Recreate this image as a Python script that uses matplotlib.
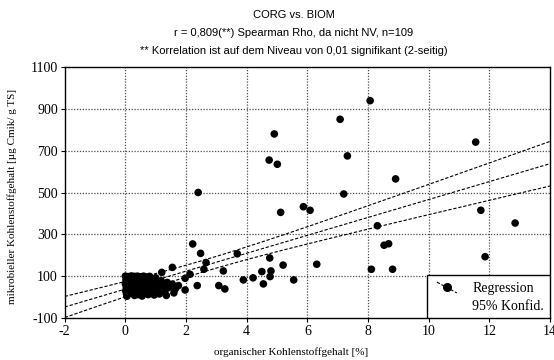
import numpy as np
import matplotlib
matplotlib.use("Agg")
import matplotlib.pyplot as plt
from matplotlib.patches import Rectangle
from matplotlib.lines import Line2D

# ---------------- data ----------------
corg_outer = [8.07, 7.08, 4.91, 4.74, 5.01, 7.32, 11.55, 8.91, 7.20, 5.12, 5.87, 6.09,
              11.72, 12.85, 8.31, 8.53, 8.68, 3.69, 4.76, 11.86, 8.11, 8.81, 2.22, 2.48,
              2.66, 2.59, 3.23, 5.20, 6.31, 4.50, 4.80, 4.77, 3.89, 4.21, 4.55, 5.55,
              2.37, 3.08, 3.28, 1.55, 1.20, 2.13, 1.97, 1.97, 1.47, 2.40]
biom_outer = [939, 850, 780, 655, 635, 675, 741, 565, 493, 405, 432, 415,
              415, 354, 341, 248, 255, 207, 187, 193, 133, 133, 254, 209,
              165, 133, 125, 153, 157, 122, 125, 98, 82, 92, 63, 82,
              55, 55, 39, 142, 118, 109, 90, 34, 50, 500]

corg_cluster = [0.0, 0.1, 0.2, 0.3, 0.4, 0.5, 0.6, 0.7, 0.8,
                0.02, 0.0, 0.03, 0.01, 0.04, 0.05,
                0.15, 0.25, 0.2, 0.12, 0.3, 0.35, 0.4, 0.45, 0.5, 0.55, 0.6, 0.65,
                0.7, 0.75, 0.8, 0.85, 0.9, 0.95, 0.28, 0.38, 0.48, 0.58, 0.68, 0.78,
                0.88, 0.92, 0.18, 0.22, 0.33, 0.42, 0.52, 0.62, 0.72, 0.82,
                1.0, 1.02, 1.08, 1.12, 1.18, 1.25, 1.3, 1.38, 1.42, 1.55, 1.65, 1.75,
                1.35, 1.6]
biom_cluster = [100, 98, 101, 99, 100, 97, 100, 96, 99,
                82, 63, 47, 30, 14, 4,
                75, 55, 35, 18, 8, 85, 65, 40, 20, 5, 78, 55,
                30, 12, 70, 48, 25, 10, 72, 28, 88, 42, 68, 38,
                85, 62, 50, 90, 45, 12, 60, 22, 90, 18,
                92, 65, 40, 15, 78, 55, 28, 70, 45, 62, 40, 55,
                8, 20]

corg = np.array(corg_outer + corg_cluster)
biom = np.array(biom_outer + biom_cluster)

x_ticks = [-2, 0, 2, 4, 6, 8, 10, 12, 14]
y_ticks = [-100, 100, 300, 500, 700, 900, 1100]

title_lines = ["CORG vs. BIOM",
               "r = 0,809(**) Spearman Rho, da nicht NV, n=109",
               "** Korrelation ist auf dem Niveau von 0,01 signifikant (2-seitig)"]
x_label = "organischer Kohlenstoffgehalt [%]"
y_label = "mikrobieller Kohlenstoffgehalt [µg Cmik/ g TS]"
legend_labels = ["Regression", "95% Konfid."]

# ---------------- regression with 95% confidence band ----------------
n = len(corg)
slope, intercept = np.polyfit(corg, biom, 1)
resid = biom - (intercept + slope * corg)
s = np.sqrt(np.sum(resid ** 2) / (n - 2))
xm = corg.mean()
sxx = np.sum((corg - xm) ** 2)
t_val = 1.982
xs = np.linspace(-2, 14, 200)
ys = intercept + slope * xs
half = t_val * s * np.sqrt(1.0 / n + (xs - xm) ** 2 / sxx)

# ---------------- figure ----------------
serif = ["Liberation Serif", "DejaVu Serif"]
sans = ["Liberation Sans", "DejaVu Sans"]

fig = plt.figure(figsize=(5.54, 3.6), dpi=100)
ax = fig.add_axes([64.7 / 554, 42 / 360, 485.3 / 554, 251 / 360])
ax.set_xlim(-2, 14)
ax.set_ylim(-100, 1100)

grid_kw = dict(color="0.3", linestyle=(0, (1, 1.3)), linewidth=0.9, zorder=1)
for gx in x_ticks[1:-1]:
    ax.axvline(gx, **grid_kw)
for gy in y_ticks[1:-1]:
    ax.axhline(gy, **grid_kw)

dash = (0, (3, 1.6))
ax.plot(xs, ys, color="black", linestyle=dash, linewidth=0.8, zorder=2)
ax.plot(xs, ys + half, color="black", linestyle=dash, linewidth=0.8, zorder=2)
ax.plot(xs, ys - half, color="black", linestyle=dash, linewidth=0.8, zorder=2)

ax.scatter(corg, biom, s=30, color="black", edgecolors="none", zorder=3, clip_on=True)

ax.set_xticks(x_ticks)
ax.set_yticks(y_ticks)
ax.set_xticklabels([str(v) for v in x_ticks], fontfamily=serif, fontsize=10)
ax.set_yticklabels([str(v) for v in y_ticks], fontfamily=serif, fontsize=10)
ax.tick_params(direction="out", length=3, width=0.8, pad=2)
for sp in ax.spines.values():
    sp.set_linewidth(1.0)
    sp.set_color("black")

# axis labels
fig.text(0.525, 8 / 360, x_label, ha="center", va="center", fontfamily=serif, fontsize=8)
fig.text(12 / 554, 1 - 196 / 360, y_label, ha="center", va="center", rotation=90,
         fontfamily=serif, fontsize=8)

# titles
for i, (line, ypx) in enumerate(zip(title_lines, [15, 33.5, 51])):
    fig.text(0.53, 1 - ypx / 360, line, ha="center", va="center", fontfamily=sans, fontsize=8)

# legend (drawn manually like the SPSS box)
ax.add_patch(Rectangle((0.747, 0.0), 0.253, 0.171, transform=ax.transAxes,
                       facecolor="white", edgecolor="black", linewidth=1.0, zorder=5))
ax.add_line(Line2D([0.767, 0.808], [0.143, 0.100], transform=ax.transAxes,
                   color="black", linestyle=dash, linewidth=0.8, zorder=6))
ax.add_line(Line2D([0.788], [0.1235], transform=ax.transAxes, marker="o",
                   markersize=5.5, color="black", linestyle="none", zorder=7))
ax.text(0.840, 0.1195, legend_labels[0], transform=ax.transAxes, ha="left", va="center",
        fontfamily=serif, fontsize=10, zorder=7)
ax.text(0.840, 0.044, legend_labels[1], transform=ax.transAxes, ha="left", va="center",
        fontfamily=serif, fontsize=10, zorder=7)

fig.savefig("out.png", dpi=100)
